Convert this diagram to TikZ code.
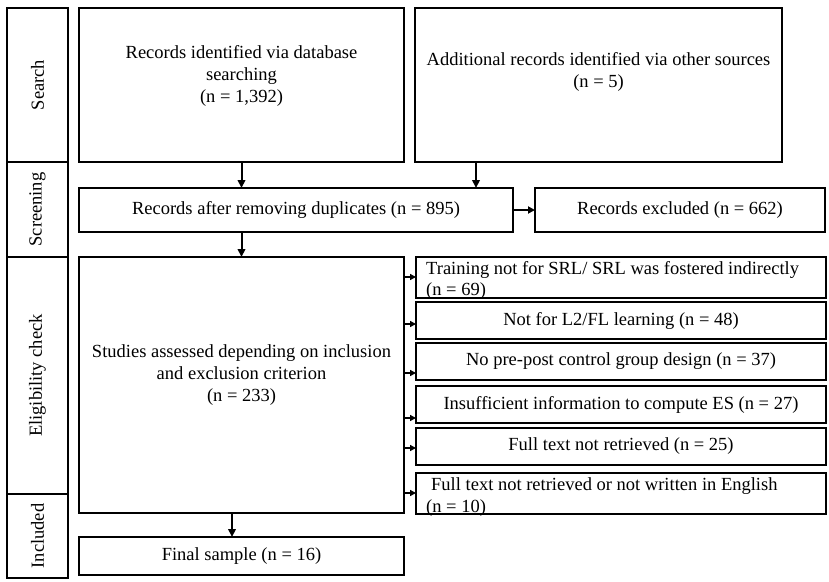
\documentclass[tikz,border=0pt]{standalone}
\usepackage{fontspec}
\setmainfont{Liberation Serif}
\usetikzlibrary{arrows.meta}
\begin{document}
\begin{tikzpicture}[x=1pt,y=-1pt,
  box/.style={draw, line width=1.4pt, inner sep=0pt, outer sep=0pt},
  txt/.style={align=center, inner sep=0pt},
  varrow/.style={line width=2pt, -{Triangle[length=8pt,width=7.5pt]}},
  harrow/.style={line width=2.4pt, -{Triangle[length=7pt,width=7pt]}},
  sarrow/.style={line width=1.5pt, -{Triangle[length=6pt,width=6pt]}},
  every node/.style={font=\fontsize{18.5}{22}\selectfont}
]
\useasboundingbox (0,0) rectangle (829,581);
% stage column
\node[box, minimum width=61pt, minimum height=154pt] (search) at (37.5,85) {};
\node[rotate=90, inner sep=0pt] (searcht) at (37.5,85) {Search};
\node[box, minimum width=61pt, minimum height=95pt] (screen) at (37.5,209.5) {};
\node[rotate=90, inner sep=0pt] (screent) at (37.5,209.5) {Screening};
\node[box, minimum width=61pt, minimum height=237pt] (elig) at (37.5,375.5) {};
\node[rotate=90, inner sep=0pt] (eligt) at (37.5,375.5) {Eligibility check};
\node[box, minimum width=61pt, minimum height=84pt] (incl) at (37.5,536) {};
\node[rotate=90, inner sep=0pt] (inclt) at (37.5,536) {Included};
% main boxes
\node[box, minimum width=325pt, minimum height=154pt] (db) at (241.5,85) {};
\node[txt] (dbt) at (241.5,76) {Records identified via database\\searching\\(n = 1,392)};
\node[box, minimum width=367pt, minimum height=154pt] (add) at (598.5,85) {};
\node[txt] (addt) at (598.5,72) {Additional records identified via other sources\\(n = 5)};
\node[box, minimum width=434pt, minimum height=44pt] (dup) at (296,210) {Records after removing duplicates (n = 895)};
\node[box, minimum width=290pt, minimum height=44pt] (exc) at (680,210) {Records excluded (n = 662)};
\node[box, minimum width=325pt, minimum height=256pt] (stud) at (241.5,385) {};
\node[txt] (studt) at (241.5,375) {Studies assessed depending on inclusion\\and exclusion criterion\\(n = 233)};
\node[box, minimum width=325pt, minimum height=38pt] (final) at (241.5,556) {Final sample (n = 16)};
% exclusion boxes
\node[box, minimum width=410pt, minimum height=41pt] (r1) at (621,277.5) {};
\node[txt, align=left, anchor=north west, font=\fontsize{18.5}{21}\selectfont] (r1t) at (426,261) {Training not for SRL/ SRL was fostered indirectly\\(n = 69)};
\node[box, minimum width=410pt, minimum height=37pt] (r2) at (621,320.5) {Not for L2/FL learning (n = 48)};
\node[box, minimum width=410pt, minimum height=37pt] (r3) at (621,361.5) {No pre-post control group design (n = 37)};
\node[box, minimum width=410pt, minimum height=37pt] (r4) at (621,404.5) {Insufficient information to compute ES (n = 27)};
\node[box, minimum width=410pt, minimum height=37pt] (r5) at (621,446.5) {Full text not retrieved (n = 25)};
\node[box, minimum width=410pt, minimum height=41pt] (r6) at (621,493.5) {};
\node[txt, align=left, anchor=north west, font=\fontsize{18.5}{22}\selectfont] (r6t) at (426,477) {\hspace{5pt}Full text not retrieved or not written in English\\(n = 10)};
% connectors
\draw[varrow] (db.south) -- (db.south |- dup.north);
\coordinate (a2) at (476,162);
\draw[varrow] (a2) -- (a2 |- dup.north);
\draw[harrow] (dup.east) -- (exc.west);
\draw[varrow] (db.south |- dup.south) -- (db.south |- stud.north);
\coordinate (a5) at (232,513);
\draw[varrow] (a5) -- (a5 |- final.north);
\coordinate (e1) at (404,277);
\coordinate (e2) at (404,324);
\coordinate (e3) at (404,373);
\coordinate (e4) at (404,418);
\coordinate (e5) at (404,448);
\coordinate (e6) at (404,493);
\draw[sarrow] (e1) -- (e1 -| r1.west);
\draw[sarrow] (e2) -- (e2 -| r2.west);
\draw[sarrow] (e3) -- (e3 -| r3.west);
\draw[sarrow] (e4) -- (e4 -| r4.west);
\draw[sarrow] (e5) -- (e5 -| r5.west);
\draw[sarrow] (e6) -- (e6 -| r6.west);
\end{tikzpicture}
\end{document}
